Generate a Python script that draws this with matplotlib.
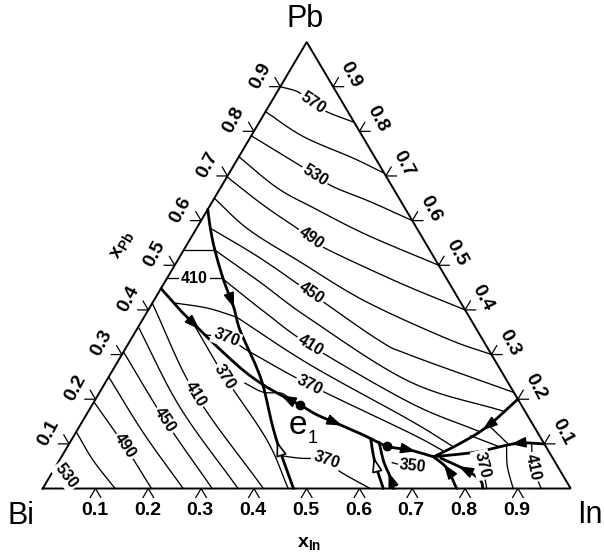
import numpy as np
import matplotlib.pyplot as plt

plt.rcParams['font.family'] = ['Liberation Sans', 'DejaVu Sans']
plt.rcParams['mathtext.fontset'] = 'custom'
plt.rcParams['mathtext.rm'] = 'Liberation Sans'
plt.rcParams['mathtext.bf'] = 'Liberation Sans:bold'

# all points are (x_In, x_Pb) mole fractions, x_Bi = 1 - x_In - x_Pb
tick_values = [0.1, 0.2, 0.3, 0.4, 0.5, 0.6, 0.7, 0.8, 0.9]
tick_labels = ['0.1', '0.2', '0.3', '0.4', '0.5', '0.6', '0.7', '0.8', '0.9']

# monovariant (bold) lines
line_a = [(0.000, 0.625), (0.024, 0.586), (0.059, 0.534), (0.109, 0.467), (0.158, 0.407),
          (0.196, 0.355), (0.262, 0.280), (0.304, 0.228), (0.361, 0.146), (0.406, 0.086),
          (0.475, 0.000)]
line_b = [(0.000, 0.448), (0.060, 0.400), (0.111, 0.362), (0.171, 0.318), (0.247, 0.265),
          (0.302, 0.232), (0.353, 0.206), (0.394, 0.187), (0.437, 0.165), (0.484, 0.146),
          (0.547, 0.120), (0.604, 0.095), (0.653, 0.086), (0.705, 0.071)]
line_up = [(0.705, 0.071), (0.740, 0.101), (0.772, 0.138), (0.800, 0.200)]
line_low = [(0.705, 0.071), (0.781, 0.082), (0.847, 0.101), (0.900, 0.100)]
line_d1 = [(0.705, 0.071), (0.743, 0.045), (0.784, 0.000)]
line_d2 = [(0.720, 0.068), (0.782, 0.041), (0.819, 0.019), (0.834, 0.000)]
line_e1 = [(0.565, 0.112), (0.599, 0.060), (0.645, 0.000)]
line_e2 = [(0.585, 0.104), (0.616, 0.060), (0.645, 0.026), (0.664, 0.000)]
invariant_pts = [(0.394, 0.187), (0.604, 0.095)]

# isotherms (K)
iso_570 = [(0.000, 0.900), (0.040, 0.888), (0.080, 0.863), (0.118, 0.843), (0.180, 0.820)]
iso_550 = [(0.000, 0.844), (0.100, 0.788), (0.218, 0.740), (0.294, 0.706)]
iso_530 = [(0.000, 0.790), (0.117, 0.728), (0.165, 0.702), (0.212, 0.676), (0.300, 0.642),
           (0.400, 0.600)]
iso_510 = [(0.000, 0.743), (0.108, 0.673), (0.200, 0.628), (0.330, 0.568), (0.500, 0.500)]
iso_490 = [(0.000, 0.698), (0.100, 0.635), (0.190, 0.583), (0.228, 0.561), (0.266, 0.538),
           (0.447, 0.460), (0.600, 0.400)]
iso_470 = [(0.000, 0.650), (0.100, 0.580), (0.233, 0.508), (0.400, 0.420), (0.597, 0.336),
           (0.700, 0.300)]
iso_450 = [(0.026, 0.583), (0.154, 0.516), (0.290, 0.437), (0.469, 0.333), (0.546, 0.299),
           (0.785, 0.215)]
iso_430_w = [(0.000, 0.534), (0.059, 0.534)]
iso_430 = [(0.059, 0.534), (0.180, 0.4625), (0.316, 0.380), (0.576, 0.239), (0.790, 0.172)]
iso_410_w = [(0.000, 0.471), (0.052, 0.471), (0.104, 0.471)]
iso_410 = [(0.104, 0.471), (0.223, 0.395), (0.346, 0.321), (0.600, 0.192), (0.762, 0.128)]
iso_390_w = [(0.039, 0.416), (0.110, 0.404), (0.175, 0.384)]
iso_390 = [(0.175, 0.384), (0.368, 0.277), (0.619, 0.153), (0.730, 0.094)]
iso_370_w = [(0.136, 0.344), (0.179, 0.337), (0.239, 0.306)]
iso_370 = [(0.239, 0.306), (0.390, 0.232), (0.634, 0.124), (0.715, 0.085)]

bi_530 = [(0.000, 0.055), (0.030, 0.028), (0.063, 0.000)]
bi_510 = [(0.000, 0.127), (0.063, 0.064), (0.137, 0.000)]
bi_490 = [(0.000, 0.194), (0.108, 0.095), (0.206, 0.000)]
bi_470 = [(0.000, 0.250), (0.128, 0.125), (0.266, 0.000)]
bi_450 = [(0.000, 0.306), (0.155, 0.153), (0.321, 0.000)]
bi_430 = [(0.000, 0.362), (0.170, 0.181), (0.370, 0.000)]
bi_410 = [(0.000, 0.415), (0.183, 0.212), (0.418, 0.000)]
bi_370 = [(0.099, 0.371), (0.220, 0.250), (0.370, 0.109), (0.465, 0.000)]

e1_loop = [(0.265, 0.236), (0.309, 0.216), (0.343, 0.214), (0.362, 0.205)]
e1_370 = [(0.417, 0.073), (0.453, 0.068), (0.505, 0.064), (0.544, 0.038), (0.620, 0.000)]
iso_350 = [(0.633, 0.058), (0.652, 0.053), (0.676, 0.050), (0.700, 0.047)]
in_370 = [(0.782, 0.083), (0.806, 0.053), (0.841, 0.000)]
in_390 = [(0.830, 0.097), (0.855, 0.050), (0.891, 0.000)]
in_410 = [(0.876, 0.100), (0.905, 0.048), (0.944, 0.000)]
mid_1 = [(0.752, 0.118), (0.817, 0.094)]
mid_2 = [(0.772, 0.143), (0.834, 0.098)]


def tern(pts):
    a = np.asarray(pts, float)
    return np.column_stack([a[:, 0] + a[:, 1] / 2, a[:, 1]])


def smooth(xy, n=14):
    if len(xy) < 3:
        return xy
    P = np.vstack([2 * xy[0] - xy[1], xy, 2 * xy[-1] - xy[-2]])
    t = np.linspace(0, 1, n, endpoint=False)[:, None]
    out = []
    for i in range(1, len(P) - 2):
        p0, p1, p2, p3 = P[i - 1], P[i], P[i + 1], P[i + 2]
        out.append(0.5 * (2 * p1 + (-p0 + p2) * t + (2 * p0 - 5 * p1 + 4 * p2 - p3) * t ** 2
                          + (-p0 + 3 * p1 - 3 * p2 + p3) * t ** 3))
    out.append(xy[-1:])
    return np.vstack(out)


fig = plt.figure(figsize=(6.04, 5.55), dpi=100)
ax = fig.add_axes([0, 0, 1, 1])
ax.set_xlim(-0.0809, 1.0631)
ax.set_ylim(-0.1489, 1.0941)
ax.axis('off')

# triangle
ax.plot([0, 1, 0.5, 0], [0, 0, 1, 0], color='k', lw=1.4, solid_joinstyle='miter')

# ternary ticks
d = 0.02
for v, lab in zip(tick_values, tick_labels):
    b = tern([(v, -d), (v, 0), (v + d, -d)])
    ax.plot(b[:, 0], b[:, 1], color='k', lw=0.9)
    ax.text(v - 0.002, -0.05, lab, ha='center', va='center', fontsize=14, fontweight='bold')
    l = tern([(-d, v), (0, v), (-d, v + d)])
    ax.plot(l[:, 0], l[:, 1], color='k', lw=0.9)
    ax.text(v / 2 - 0.038, v + 0.025, lab, ha='center', va='center', fontsize=14,
            fontweight='bold', rotation=62, rotation_mode='anchor')
    r = tern([(1 - v + d, v), (1 - v, v), (1 - v, v + d)])
    ax.plot(r[:, 0], r[:, 1], color='k', lw=0.9)
    ax.text(1 - v / 2 + 0.034, v + 0.027, lab, ha='center', va='center', fontsize=14,
            fontweight='bold', rotation=-62, rotation_mode='anchor')

ax.text(0.497, 1.052, 'Pb', ha='center', va='center', fontsize=22)
ax.text(-0.041, -0.062, 'Bi', ha='center', va='center', fontsize=22)
ax.text(1.037, -0.060, 'In', ha='center', va='center', fontsize=22)
ax.text(0.152, 0.543, r'$\mathbf{x}_{\mathbf{Pb}}$', ha='center', va='center', fontsize=14,
        rotation=60, rotation_mode='anchor')
ax.text(0.504, -0.124, r'$\mathbf{x}_{\mathbf{In}}$', ha='center', va='center', fontsize=14)

# isotherms: (points, label, index of label point)
isotherms = [
    (iso_570, '570', 2), (iso_550, None, 0), (iso_530, '530', 2), (iso_510, None, 0),
    (iso_490, '490', 3), (iso_470, None, 0), (iso_450, '450', 2), (iso_430_w, None, 0),
    (iso_430, None, 0), (iso_410_w, '410', 1), (iso_410, '410', 2), (iso_390_w, None, 0),
    (iso_390, None, 0), (iso_370_w, '370', 1), (iso_370, '370', 1),
    (bi_530, '530', 1), (bi_510, None, 0), (bi_490, '490', 1), (bi_470, None, 0),
    (bi_450, '450', 1), (bi_430, None, 0), (bi_410, '410', 1), (bi_370, '370', 1),
    (e1_loop, None, 0), (e1_370, '370', 2), (iso_350, '350', 2),
    (in_370, '370', 1), (in_390, None, 0), (in_410, '410', 1), (mid_1, None, 0), (mid_2, None, 0),
]
for pts, lab, k in isotherms:
    xy = tern(pts)
    s = smooth(xy)
    ax.plot(s[:, 0], s[:, 1], color='k', lw=0.95)
    if lab:
        a = ax.transData.transform(xy[max(k - 1, 0)])
        c = ax.transData.transform(xy[min(k + 1, len(xy) - 1)])
        ang = np.degrees(np.arctan2(c[1] - a[1], c[0] - a[0]))
        if ang > 90:
            ang -= 180
        if ang < -90:
            ang += 180
        ax.text(xy[k, 0], xy[k, 1], lab, ha='center', va='center', fontsize=11.5,
                fontweight='bold', rotation=ang, rotation_mode='anchor',
                bbox=dict(facecolor='white', edgecolor='none', pad=1.2))

# bold boundary lines
bold = {'a': line_a, 'b': line_b, 'up': line_up, 'low': line_low, 'd1': line_d1,
        'd2': line_d2, 'e1': line_e1, 'e2': line_e2}
bold_xy = {}
for key, pts in bold.items():
    s = smooth(tern(pts))
    bold_xy[key] = s
    ax.plot(s[:, 0], s[:, 1], color='k', lw=2.0, solid_capstyle='round')

inv = tern(invariant_pts)
ax.plot(inv[:, 0], inv[:, 1], 'o', color='k', ms=6)

# arrows: (line, point, direction along line, filled)
arrows = [('a', (0.150, 0.4155), 1, True), ('a', (0.387, 0.094), -1, False),
          ('b', (0.104, 0.362), 1, True), ('b', (0.359, 0.206), -1, True),
          ('b', (0.484, 0.146), 1, True), ('b', (0.653, 0.086), 1, True),
          ('up', (0.772, 0.138), -1, True), ('low', (0.847, 0.101), -1, True),
          ('d1', (0.743, 0.045), -1, True), ('d2', (0.776, 0.041), -1, True),
          ('e1', (0.599, 0.060), -1, False), ('e2', (0.645, 0.026), -1, True)]
for key, p, sgn, filled in arrows:
    s = bold_xy[key]
    q = tern([p])[0]
    i = int(np.argmin(np.hypot(s[:, 0] - q[0], s[:, 1] - q[1])))
    i = min(max(i, 1), len(s) - 2)
    tdir = (s[i + 1] - s[i - 1]) * sgn
    tdir = tdir / np.hypot(*tdir)
    ax.annotate('', xy=s[i] + tdir * 0.011, xytext=s[i] - tdir * 0.011,
                arrowprops=dict(arrowstyle='-|>,head_length=0.9,head_width=0.32',
                                mutation_scale=10, lw=1.2, color='k',
                                fc='k' if filled else 'white',
                                shrinkA=0, shrinkB=0))

ax.text(0.4835, 0.142, 'e', ha='center', va='center', fontsize=24)
ax.text(0.511, 0.112, '1', ha='center', va='center', fontsize=13)

fig.savefig('out.png', dpi=100)
